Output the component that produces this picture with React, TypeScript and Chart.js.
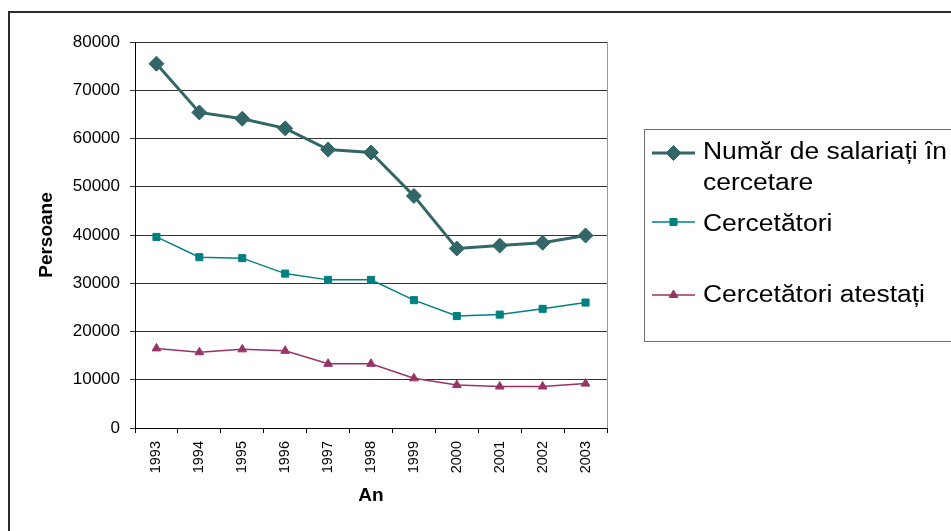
import React, { useEffect, useRef } from "react";
import { Chart, registerables } from "chart.js";
import { drawPoint } from "chart.js/helpers";

Chart.register(...registerables);

const years = ["1993", "1994", "1995", "1996", "1997", "1998", "1999", "2000", "2001", "2002", "2003"];
const salariati = [75500, 65400, 64100, 62100, 57700, 57100, 48100, 37200, 37800, 38400, 39900];
const cercetatori = [39600, 35400, 35200, 32000, 30700, 30700, 26500, 23200, 23500, 24700, 26000];
const atestati = [16500, 15700, 16300, 16000, 13300, 13300, 10300, 8900, 8600, 8600, 9200];
const seriesLabels = ["Număr de salariați în cercetare", "Cercetători", "Cercetători atestați"];
const yMin = 0;
const yMax = 80000;
const yStep = 10000;
const xTitle = "An";
const yTitle = "Persoane";

const FONT = '"Liberation Sans", Arial, sans-serif';

const plotBorder = {
  id: "plotBorder",
  beforeDatasetsDraw(chart: any) {
    const { ctx, chartArea } = chart;
    ctx.save();
    ctx.strokeStyle = "#9a9a9a";
    ctx.lineWidth = 1;
    ctx.beginPath();
    const x = Math.round(chartArea.right) + 0.5;
    ctx.moveTo(x, chartArea.top);
    ctx.lineTo(x, chartArea.bottom);
    ctx.stroke();
    ctx.restore();
  },
};

const boxLegend = {
  id: "boxLegend",
  afterDraw(chart: any) {
    const ctx = chart.ctx;
    ctx.save();
    ctx.fillStyle = "#ffffff";
    ctx.fillRect(644.5, 129.5, 400, 212);
    ctx.strokeStyle = "#707070";
    ctx.lineWidth = 1;
    ctx.strokeRect(644.5, 129.5, 400, 212);
    const markerY = [153, 222, 295];
    const baselines = [159, 231, 302];
    const lineGap = 30.5;
    const sx = 1.15;
    const fs = 23;
    ctx.font = `${fs}px ${FONT}`;
    chart.data.datasets.forEach((ds: any, i: number) => {
      const y = markerY[i];
      ctx.strokeStyle = ds.borderColor;
      ctx.lineWidth = ds.borderWidth;
      ctx.beginPath();
      ctx.moveTo(652, y);
      ctx.lineTo(695, y);
      ctx.stroke();
      ctx.fillStyle = ds.pointBackgroundColor;
      ctx.strokeStyle = ds.pointBorderColor;
      ctx.lineWidth = 1;
      drawPoint(ctx, { pointStyle: ds.pointStyle, radius: ds.pointRadius, rotation: 0, borderWidth: 1 } as any, 673.5, y);
      const words = String(ds.label).split(" ");
      const lines: string[] = [];
      let cur = "";
      for (const w of words) {
        const test = cur ? cur + " " + w : w;
        if (ctx.measureText(test).width * sx > 250 && cur) {
          lines.push(cur);
          cur = w;
        } else cur = test;
      }
      if (cur) lines.push(cur);
      ctx.fillStyle = "#000";
      ctx.textBaseline = "alphabetic";
      ctx.textAlign = "left";
      lines.forEach((ln, k) => {
        ctx.save();
        ctx.translate(703, baselines[i] + k * lineGap);
        ctx.scale(sx, 1);
        ctx.fillText(ln, 0, 0);
        ctx.restore();
      });
    });
    ctx.restore();
  },
};

export default function App() {
  const ref = useRef<HTMLCanvasElement | null>(null);
  useEffect(() => {
    if (!ref.current) return;
    const chart = new Chart(ref.current, {
      type: "line",
      data: {
        labels: years,
        datasets: [
          {
            label: seriesLabels[0],
            data: salariati,
            borderColor: "#336666",
            backgroundColor: "#336666",
            pointBackgroundColor: "#336666",
            pointBorderColor: "#336666",
            borderWidth: 3,
            pointStyle: "rectRot",
            pointRadius: 7.5,
            pointBorderWidth: 1,
            tension: 0,
          },
          {
            label: seriesLabels[1],
            data: cercetatori,
            borderColor: "#008080",
            backgroundColor: "#008080",
            pointBackgroundColor: "#008080",
            pointBorderColor: "#008080",
            borderWidth: 1.5,
            pointStyle: "rect",
            pointRadius: 5,
            pointBorderWidth: 1,
            tension: 0,
          },
          {
            label: seriesLabels[2],
            data: atestati,
            borderColor: "#993366",
            backgroundColor: "#993366",
            pointBackgroundColor: "#993366",
            pointBorderColor: "#993366",
            borderWidth: 1.5,
            pointStyle: "triangle",
            pointRadius: 5,
            pointBorderWidth: 1,
            tension: 0,
          },
        ],
      },
      options: {
        animation: false,
        responsive: false,
        devicePixelRatio: 1,
        layout: { padding: { left: 0, right: 344, top: 42, bottom: 0 } },
        plugins: { legend: { display: false }, tooltip: { enabled: false } },
        scales: {
          x: {
            type: "category",
            offset: true,
            afterFit: (s: any) => {
              s.height = 103;
            },
            grid: { drawOnChartArea: false, drawTicks: true, tickLength: 5, color: "#000", offset: true },
            border: { display: true, color: "#000", width: 1 },
            ticks: {
              minRotation: 90,
              maxRotation: 90,
              padding: 8,
              color: "#000",
              font: { family: FONT, size: 14.5 },
              autoSkip: false,
            },
            title: {
              display: true,
              text: xTitle,
              color: "#000",
              font: { family: FONT, size: 19, weight: "bold" },
              padding: { top: 0, bottom: 23.6 },
            },
          },
          y: {
            min: yMin,
            max: yMax,
            afterFit: (s: any) => {
              s.width = 135;
            },
            grid: { color: "#333", tickLength: 5, drawTicks: true },
            border: { display: true, color: "#000", width: 1 },
            ticks: {
              stepSize: yStep,
              padding: 10,
              color: "#000",
              font: { family: FONT, size: 17 },
              callback: (v: any) => String(v),
            },
            title: {
              display: true,
              text: yTitle,
              color: "#000",
              font: { family: FONT, size: 19, weight: "bold" },
              padding: { top: 35.6, bottom: 0 },
            },
          },
        },
      },
      plugins: [plotBorder, boxLegend],
    });
    return () => chart.destroy();
  }, []);

  return (
    <>
      <div
        style={{
          position: "fixed",
          left: 8,
          top: 11,
          width: 1100,
          height: 700,
          border: "2px solid #2b2b2b",
          boxSizing: "border-box",
          background: "#fff",
        }}
      />
      <canvas
        ref={ref}
        width={951}
        height={531}
        style={{ position: "fixed", left: 0, top: 0, width: 951, height: 531 }}
      />
    </>
  );
}
